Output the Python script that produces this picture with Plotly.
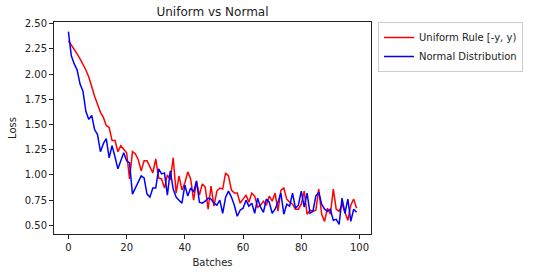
import plotly.graph_objects as go

batches = list(range(100))
uniform_loss = [2.33, 2.29, 2.25, 2.20, 2.15, 2.10, 2.04, 1.97, 1.87, 1.78,
                1.70, 1.62, 1.57, 1.49, 1.47, 1.34, 1.34, 1.23, 1.29, 1.26,
                1.22, 0.96, 1.23, 1.21, 1.15, 1.04, 1.14, 1.14, 1.08, 1.02,
                1.16, 0.97, 0.96, 0.87, 1.00, 0.95, 1.17, 0.82, 0.99, 0.85,
                0.92, 1.03, 0.96, 0.75, 0.93, 0.80, 0.91, 0.88, 0.66, 0.89,
                0.69, 0.84, 0.87, 0.86, 1.02, 0.99, 0.85, 0.82, 0.82, 0.72,
                0.76, 0.80, 0.73, 0.82, 0.79, 0.68, 0.70, 0.74, 0.70, 0.79,
                0.74, 0.82, 0.64, 0.85, 0.87, 0.76, 0.73, 0.71, 0.66, 0.66,
                0.71, 0.84, 0.61, 0.65, 0.64, 0.65, 0.86, 0.61, 0.54, 0.67,
                0.61, 0.86, 0.66, 0.64, 0.71, 0.62, 0.55, 0.70, 0.76, 0.67]
normal_loss = [2.42, 2.18, 2.10, 2.04, 1.90, 1.83, 1.63, 1.55, 1.59, 1.45,
               1.40, 1.23, 1.31, 1.36, 1.17, 1.29, 1.18, 1.06, 1.14, 1.22,
               1.14, 1.12, 0.81, 0.87, 0.92, 0.99, 0.97, 0.81, 0.78, 0.87,
               0.87, 1.06, 1.01, 1.02, 0.80, 1.04, 0.86, 0.78, 0.75, 0.72,
               0.90, 0.79, 0.87, 0.83, 0.94, 0.73, 0.72, 0.74, 0.77, 0.76,
               0.72, 0.70, 0.75, 0.62, 0.78, 0.84, 0.78, 0.70, 0.59, 0.65,
               0.67, 0.75, 0.69, 0.72, 0.62, 0.77, 0.68, 0.63, 0.76, 0.73,
               0.62, 0.66, 0.73, 0.82, 0.61, 0.71, 0.69, 0.82, 0.67, 0.70,
               0.84, 0.68, 0.82, 0.62, 0.64, 0.79, 0.83, 0.71, 0.66, 0.64,
               0.66, 0.55, 0.56, 0.51, 0.77, 0.62, 0.76, 0.54, 0.66, 0.63]
x_ticks = [0, 20, 40, 60, 80, 100]
y_ticks = [0.50, 0.75, 1.00, 1.25, 1.50, 1.75, 2.00, 2.25, 2.50]

font = "DejaVu Sans"
fig = go.Figure()
fig.add_trace(go.Scatter(x=batches, y=uniform_loss, mode="lines", name="Uniform Rule [-y, y)",
                         line=dict(color="red", width=1.5)))
fig.add_trace(go.Scatter(x=batches, y=normal_loss, mode="lines", name="Normal Distribution",
                         line=dict(color="blue", width=1.5)))

axis_common = dict(showgrid=False, zeroline=False, showline=True, linecolor="#222",
                   linewidth=1, mirror=True, ticks="outside", ticklen=4, tickcolor="#222",
                   tickfont=dict(family=font, size=10, color="#222"))
fig.update_xaxes(range=[-4.95, 103.95], tickvals=x_ticks, ticktext=[str(v) for v in x_ticks],
                 title=dict(text="Batches", font=dict(family=font, size=10, color="#222"), standoff=6),
                 **axis_common)
fig.update_yaxes(range=[0.4145, 2.5155], tickvals=y_ticks, ticktext=[f"{v:.2f}" for v in y_ticks],
                 title=dict(text="Loss", font=dict(family=font, size=10, color="#222"), standoff=6),
                 **axis_common)
fig.update_layout(
    width=543, height=278,
    margin=dict(l=49, r=172, t=22, b=38),
    paper_bgcolor="white", plot_bgcolor="white",
    title=dict(text="Uniform vs Normal", x=0.5, xref="paper", y=1 - 12 / 278, yref="container",
               xanchor="center", yanchor="middle", font=dict(family=font, size=12, color="#222")),
    legend=dict(x=0.028, y=1.0, xanchor="left", yanchor="top", bordercolor="#cccccc", borderwidth=1,
                bgcolor="white", font=dict(family=font, size=10, color="#222"),
                tracegroupgap=0, itemwidth=30),
    showlegend=True,
)
fig.update_layout(legend_x=1.022)
fig.write_html("out.html")
